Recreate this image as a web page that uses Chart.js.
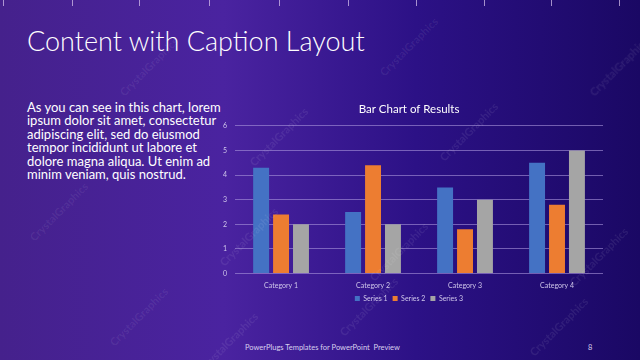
<!DOCTYPE html>
<html>
<head>
<meta charset="utf-8">
<script src="https://cdn.jsdelivr.net/npm/chart.js"></script>
<style>
  html, body { margin: 0; padding: 0; }
  body { width: 640px; height: 360px; overflow: hidden; font-family: Lato, "Open Sans", sans-serif; }
  .slide {
    position: relative; width: 640px; height: 360px; overflow: hidden;
    background: linear-gradient(90deg, #45218c 0%, #4a23a0 35%, #2c1186 65%, #1a0864 100%);
  }
  .tick { position: absolute; top: 0; width: 1px; height: 6px; background: rgba(220,200,240,0.7); }
  .title { position: absolute; left: 27px; top: 24px; color: #fff; font-size: 27px; font-weight: 300; white-space: nowrap; }
  .caption { position: absolute; left: 27px; top: 101px; color: #fff; font-size: 13px; line-height: 13.4px; white-space: nowrap; }
  .footer { position: absolute; top: 343px; color: #d8d0ee; font-size: 7.5px; }
  .wm { position: absolute; color: rgba(255,255,255,0.08); font-size: 11px; font-weight: bold; transform: rotate(-45deg); white-space: nowrap; }
  .chart-wrapper { position: absolute; left: 215px; top: 96px; width: 405px; height: 216px; }
</style>
</head>
<body>
<div class="slide" id="slide">
  <div class="title">Content with Caption Layout</div>
  <div class="caption">As you can see in this chart, lorem<br>ipsum dolor sit amet, consectetur<br>adipiscing elit, sed do eiusmod<br>tempor incididunt ut labore et<br>dolore magna aliqua. Ut enim ad<br>minim veniam, quis nostrud.</div>
  <div class="chart-wrapper"><canvas id="barChart" width="405" height="216"></canvas></div>
  <div class="footer" style="left:245px">PowerPlugs Templates for PowerPoint&nbsp; Preview</div>
  <div class="footer" style="left:588px">8</div>
</div>
<script>
const categories = ['Category 1', 'Category 2', 'Category 3', 'Category 4'];
const series1 = [4.3, 2.5, 3.5, 4.5];
const series2 = [2.4, 4.4, 1.8, 2.8];
const series3 = [2.0, 2.0, 3.0, 5.0];
const seriesNames = ['Series 1', 'Series 2', 'Series 3'];
const chartTitle = 'Bar Chart of Results';

// slide decorations
const slide = document.getElementById('slide');
[3, 72, 139, 209, 279, 348, 416, 484, 551, 619].forEach(x => {
  const t = document.createElement('div');
  t.className = 'tick';
  t.style.left = x + 'px';
  slide.appendChild(t);
});
[[110, 60], [370, 40], [580, 60], [20, 205], [240, 130], [430, 125], [210, 230], [360, 245], [560, 250], [100, 310], [330, 300], [520, 320], [190, 335]].forEach(p => {
  const w = document.createElement('div');
  w.className = 'wm';
  w.textContent = 'CrystalGraphics';
  w.style.left = p[0] + 'px';
  w.style.top = p[1] + 'px';
  slide.appendChild(w);
});

const textColor = '#cfc6ea';
new Chart(document.getElementById('barChart'), {
  type: 'bar',
  data: {
    labels: categories,
    datasets: [
      { label: seriesNames[0], data: series1, backgroundColor: '#4472C4' },
      { label: seriesNames[1], data: series2, backgroundColor: '#ED7D31' },
      { label: seriesNames[2], data: series3, backgroundColor: '#A5A5A5' }
    ]
  },
  options: {
    responsive: false,
    animation: false,
    devicePixelRatio: 1,
    layout: { padding: { left: 0, right: 17, top: 0, bottom: 0 } },
    datasets: { bar: { categoryPercentage: 0.65, barPercentage: 0.8 } },
    scales: {
      y: {
        min: 0, max: 6,
        ticks: { stepSize: 1, color: textColor, font: { size: 7, family: 'Lato' }, padding: 8 },
        grid: { color: 'rgba(170,150,220,0.6)', lineWidth: 1, drawTicks: false },
        border: { display: false }
      },
      x: {
        ticks: { color: textColor, font: { size: 7, family: 'Lato' }, padding: 0 },
        grid: { display: false },
        border: { display: false }
      }
    },
    plugins: {
      title: { display: true, text: chartTitle, color: '#ffffff', font: { size: 11.5, family: 'Lato', weight: 'normal' }, padding: { top: 6, bottom: 10 } },
      legend: {
        position: 'bottom',
        labels: { color: textColor, boxWidth: 5, boxHeight: 5, padding: 5, font: { size: 7, family: 'Lato' } }
      },
      tooltip: { enabled: false }
    }
  }
});
</script>
</body>
</html>
